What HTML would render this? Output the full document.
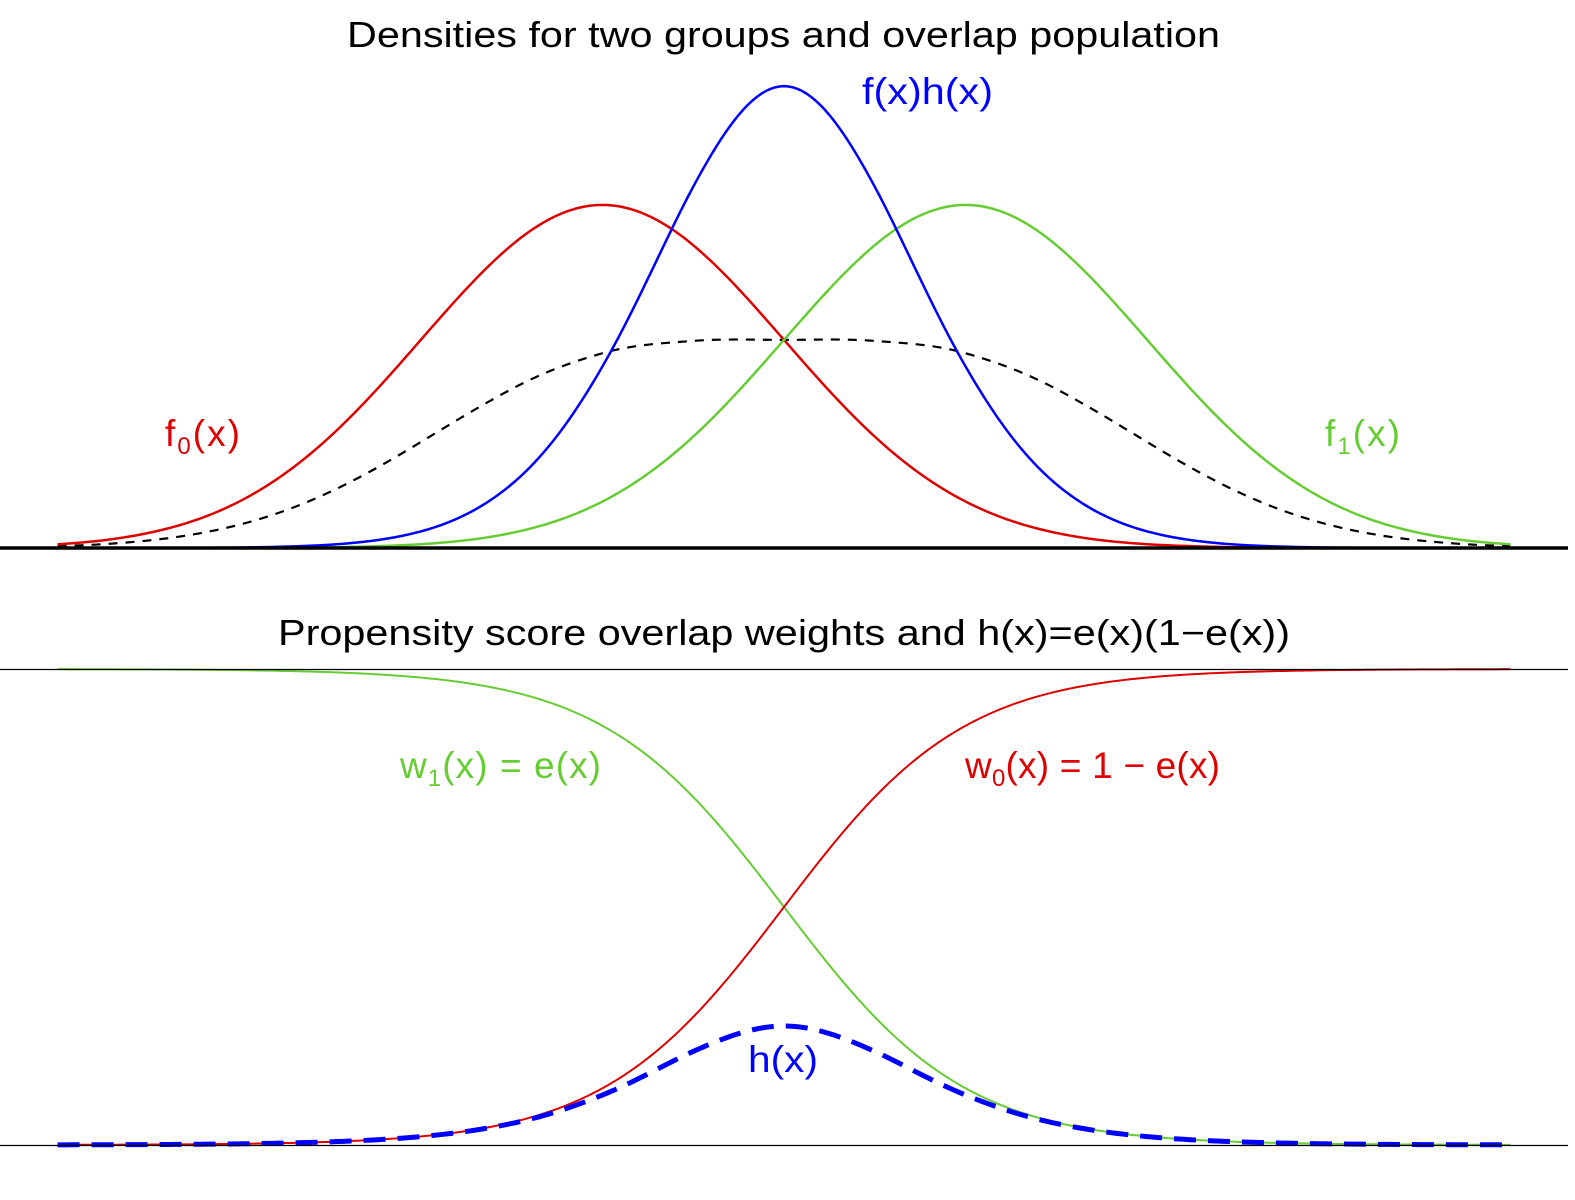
<!DOCTYPE html>
<html><head><meta charset="utf-8"><style>
html,body{margin:0;padding:0;background:#fff;}
svg{display:block;font-family:"Liberation Sans",Arial,sans-serif;}
</style></head><body>
<svg id="chart" width="1575" height="1200" viewBox="0 0 1575 1200" xmlns="http://www.w3.org/2000/svg">
<text x="347" y="47" font-size="36" textLength="873" lengthAdjust="spacingAndGlyphs">Densities for two groups and overlap population</text>
<text x="278" y="645" font-size="36" textLength="1012" lengthAdjust="spacingAndGlyphs">Propensity score overlap weights and h(x)=e(x)(1−e(x))</text>
<g id="topPanel"></g>
<g id="botPanel"></g>
<line x1="0" x2="1568" y1="548" y2="548" stroke="#000" stroke-width="3.5"/>
<line x1="0" x2="1568" y1="669.5" y2="669.5" stroke="#000" stroke-width="1.2"/>
<line x1="0" x2="1568" y1="1145.5" y2="1145.5" stroke="#000" stroke-width="1.2"/>
<text x="862" y="104" font-size="37" fill="#0000ff" textLength="131" lengthAdjust="spacingAndGlyphs">f(x)h(x)</text>
<text x="165" y="446" font-size="37" fill="#dd0000" textLength="75" lengthAdjust="spacing">f<tspan font-size="24" dy="8">0</tspan><tspan dy="-8">(x)</tspan></text>
<text x="1325" y="446" font-size="37" fill="#66cc33" textLength="75" lengthAdjust="spacing">f<tspan font-size="24" dy="8">1</tspan><tspan dy="-8">(x)</tspan></text>
<text x="400" y="778" font-size="37" fill="#66cc33" textLength="201" lengthAdjust="spacing">w<tspan font-size="24" dy="8">1</tspan><tspan dy="-8">(x) = e(x)</tspan></text>
<text x="965" y="778" font-size="37" fill="#dd0000" textLength="255" lengthAdjust="spacing">w<tspan font-size="24" dy="8">0</tspan><tspan dy="-8">(x) = 1 − e(x)</tspan></text>
<text x="748" y="1072" font-size="37" fill="#0000ff" textLength="70" lengthAdjust="spacingAndGlyphs">h(x)</text>
</svg>
<script>
const xs = [-4,-3.5,-3,-2.5,-2,-1.5,-1,-0.5,0,0.5,1,1.5,2,2.5,3,3.5,4];
const f0 = [.0044,.0175,.0540,.1295,.2420,.3521,.3989,.3521,.2420,.1295,.0540,.0175,.0044,.0009,.0001,.000016,.0000015];
const f1 = [.0000015,.000016,.0001,.0009,.0044,.0175,.0540,.1295,.2420,.3521,.3989,.3521,.2420,.1295,.0540,.0175,.0044];
const mix = [.0022,.00875,.02705,.0652,.1232,.1848,.22645,.2408,.2420,.2408,.22645,.1848,.1232,.0652,.02705,.00875,.0022];
const fh = [.000001,.00007,.00059,.00385,.0193,.0741,.211,.420,.537,.420,.211,.0741,.0193,.00385,.00059,.00007,.000001];
const e0 = [.000335,.000911,.00247,.00669,.01799,.04743,.1192,.2689,.5,.7311,.8808,.95257,.98201,.99331,.99753,.999089,.999665];
const e1 = [.999665,.999089,.99753,.99331,.98201,.95257,.8808,.7311,.5,.2689,.1192,.04743,.01799,.00669,.00247,.000911,.000335];
const hx = [.000335,.00091,.00247,.00665,.01766,.04518,.1050,.1966,.25,.1966,.1050,.04518,.01766,.00665,.00247,.00091,.000335];

const NS="http://www.w3.org/2000/svg";
const xScale = x => 784 + x*181.6;
const yTop = v => 548 - v*860;
const yBot = v => 1145 - v*476;
const LOG = {f: v=>Math.log(Math.max(v,1e-9)), inv: Math.exp};
const LOGIT = {f: v=>{const c=Math.min(Math.max(v,1e-9),1-1e-9);return Math.log(c/(1-c));}, inv: l=>1/(1+Math.exp(-l))};
function cr(a,b,c,d,t){
  return 0.5*((2*b)+(-a+c)*t+(2*a-5*b+4*c-d)*t*t+(-a+3*b-3*c+d)*t*t*t);
}
function pathD(ys, ysc, tr){
  const L = ys.map(tr.f);
  const n = L.length;
  const get = i => i<0 ? 2*L[0]-L[1] : (i>=n ? 2*L[n-1]-L[n-2] : L[i]);
  let pts=[];
  for(let i=0;i<n-1;i++){
    const steps=20;
    for(let s=0;s<steps;s++){
      const t=s/steps;
      const lv=cr(get(i-1),get(i),get(i+1),get(i+2),t);
      const x=xs[i]+(xs[i+1]-xs[i])*t;
      pts.push(xScale(x).toFixed(2)+","+ysc(tr.inv(lv)).toFixed(2));
    }
  }
  pts.push(xScale(xs[n-1]).toFixed(2)+","+ysc(ys[n-1]).toFixed(2));
  return "M"+pts.join(" L");
}
function addPath(g, ys, ysc, color, w, dash, tr){
  const el=document.createElementNS(NS,"path");
  el.setAttribute("d", pathD(ys, ysc, tr||LOG));
  el.setAttribute("fill","none");
  el.setAttribute("stroke",color);
  el.setAttribute("stroke-width",w);
  el.setAttribute("stroke-linejoin","round");
  if(dash) el.setAttribute("stroke-dasharray",dash);
  g.appendChild(el);
  return el;
}
const topG=document.getElementById("topPanel"), botG=document.getElementById("botPanel");
let el;
el=addPath(topG, mix, yTop, "#000", 2.2, "9,8");


el=addPath(topG, f0, yTop, "#dd0000", 2.5);


el=addPath(topG, f1, yTop, "#66cc33", 2.5);


el=addPath(topG, fh, yTop, "#0000ff", 2.5);


el=addPath(botG, e1, yBot, "#66cc33", 2, null, LOGIT);


el=addPath(botG, e0, yBot, "#dd0000", 2, null, LOGIT);


el=addPath(botG, hx, yBot, "#0000ff", 5, "22,12");


</script>
</body></html>
